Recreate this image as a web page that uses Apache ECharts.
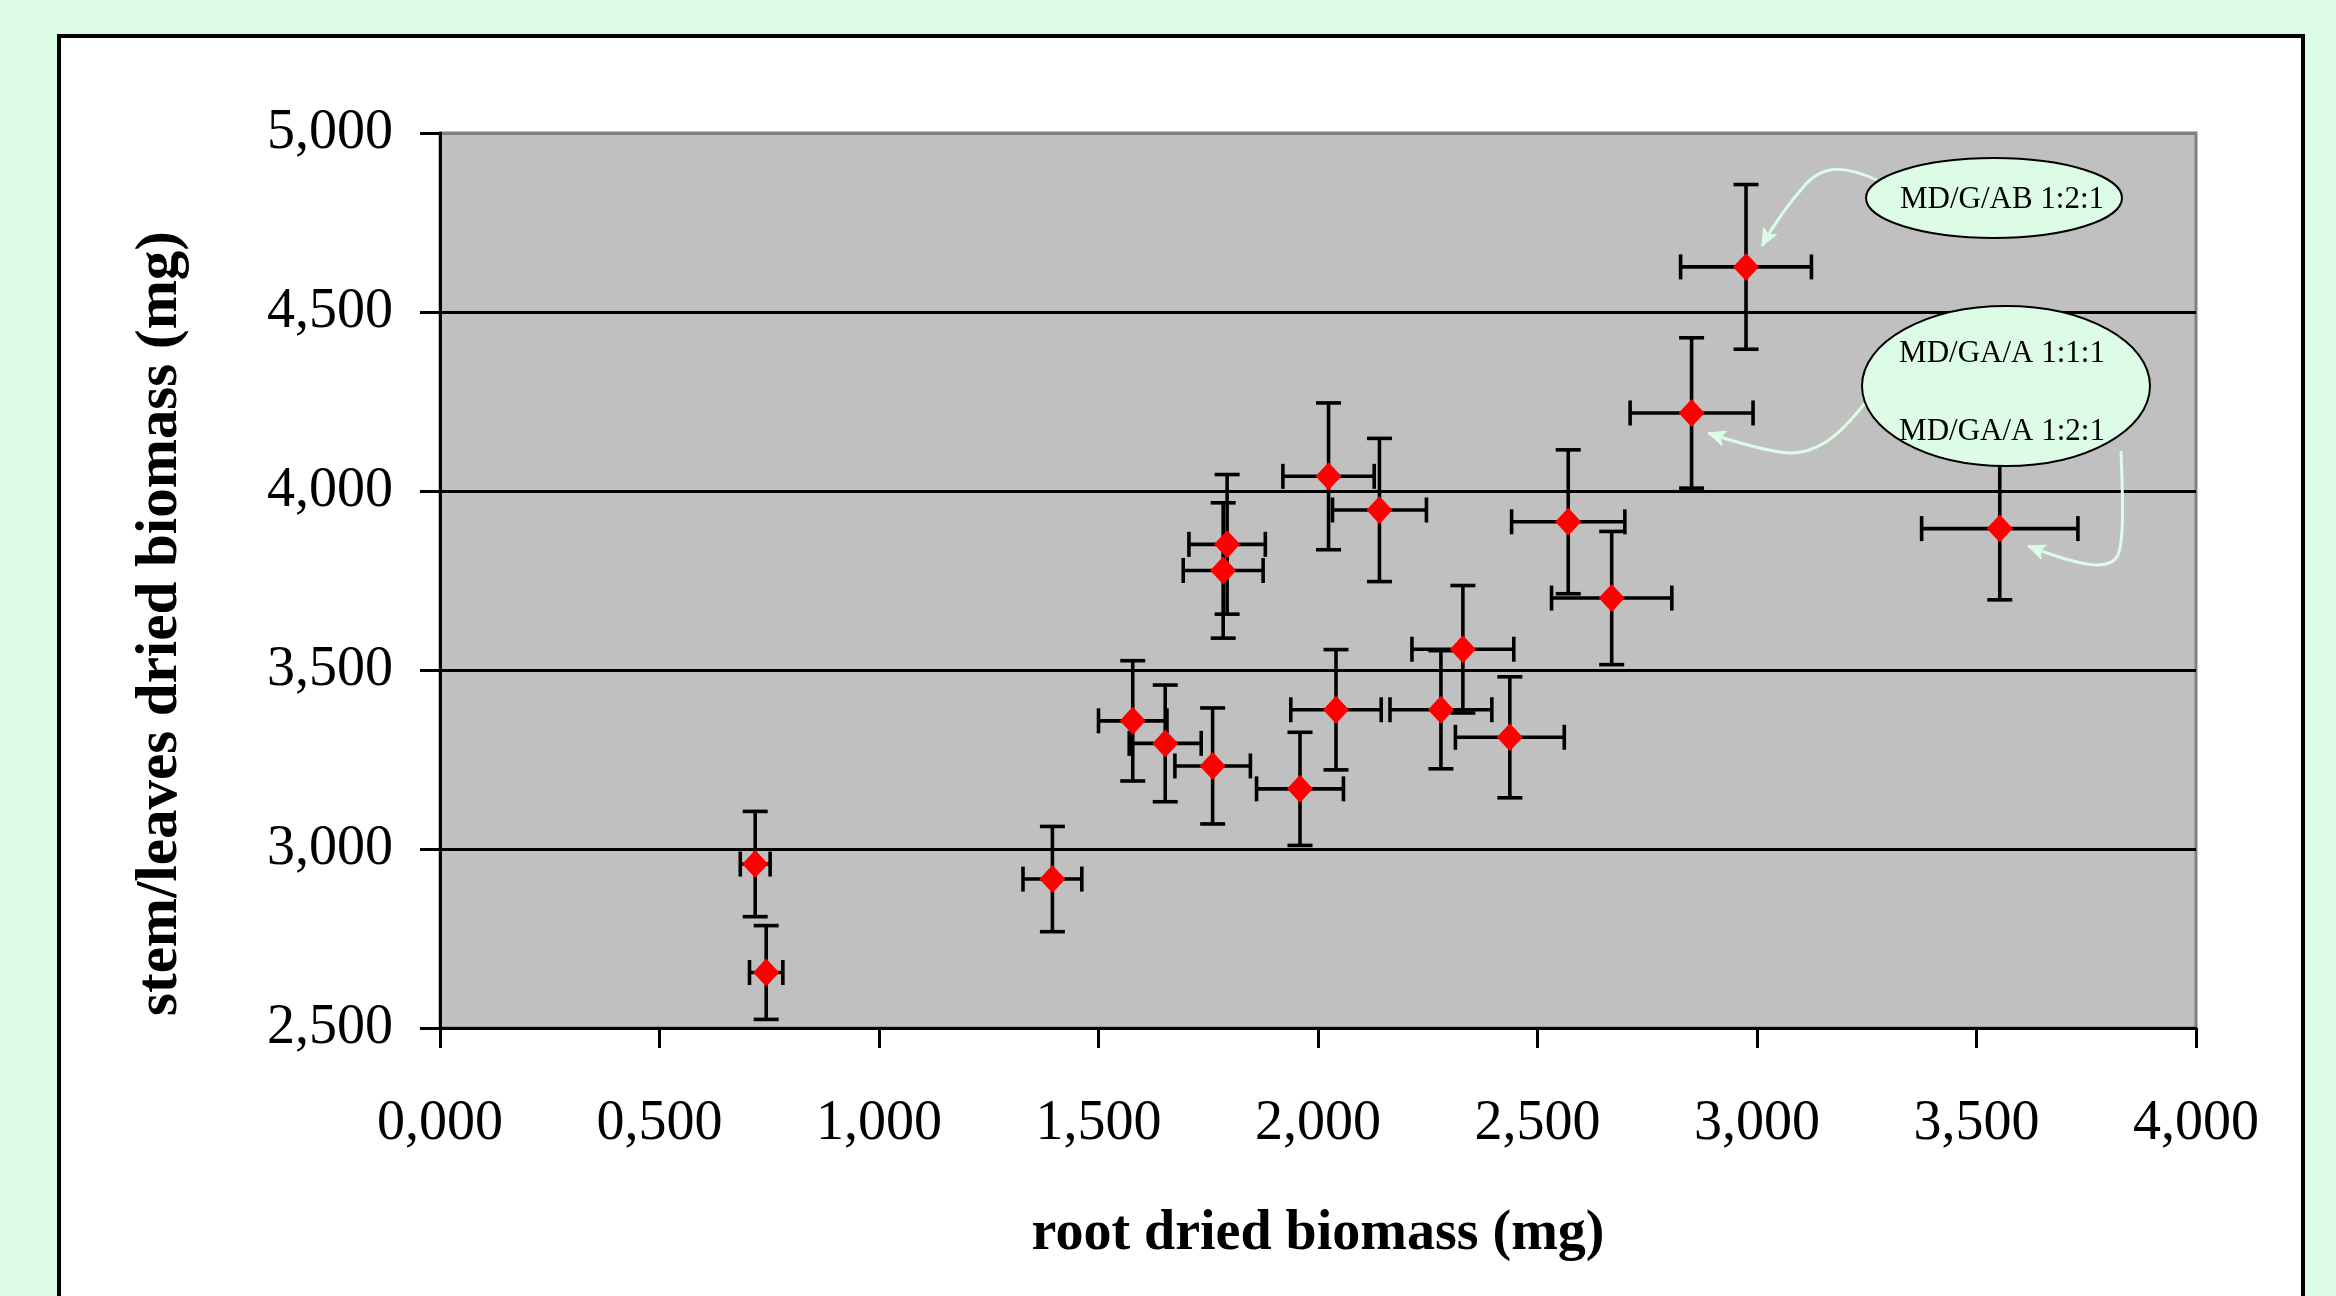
<!DOCTYPE html>
<html>
<head>
<meta charset="utf-8">
<script src="https://cdn.jsdelivr.net/npm/echarts@6/dist/echarts.min.js"></script>
<style>
html,body{margin:0;padding:0;background:#DDFCE6;}
#c{width:2336px;height:1296px;}
</style>
</head>
<body>
<div id="c"></div>
<script>
// ---- data ----
const xTickLabels = ['0,000','0,500','1,000','1,500','2,000','2,500','3,000','3,500','4,000'];
const yTickLabels = ['2,500','3,000','3,500','4,000','4,500','5,000'];
const xTitle = 'root dried biomass (mg)';
const yTitle = 'stem/leaves dried biomass (mg)';
const rootBiomass = [0.718, 0.743, 1.395, 1.578, 1.652, 1.760, 1.784, 1.793, 1.959, 2.024, 2.041, 2.140, 2.280, 2.330, 2.437, 2.570, 2.669, 2.851, 2.975, 3.553];
const stemBiomass = [2958, 2655, 2916, 3358, 3295, 3232, 3778, 3851, 3168, 4041, 3389, 3947, 3389, 3558, 3312, 3914, 3701, 4218, 4626, 3895];
const rootError   = [0.034, 0.038, 0.067, 0.078, 0.082, 0.086, 0.091, 0.087, 0.099, 0.104, 0.103, 0.107, 0.116, 0.116, 0.124, 0.129, 0.137, 0.140, 0.149, 0.178];
const stemError   = [147, 131, 147, 168, 163, 162, 189, 195, 158, 205, 168, 200, 165, 178, 169, 201, 186, 210, 230, 199];
const noteTop = 'MD/G/AB 1:2:1';
const noteMid = ['MD/GA/A 1:1:1', 'MD/GA/A 1:2:1'];

// ---- styles ----
const SERIF = '"Liberation Serif", "Times New Roman", serif';
const GREEN = '#DDFCE6';
const CAP = 25;

const chart = echarts.init(document.getElementById('c'));

const errData = rootBiomass.map((x, i) => [x, stemBiomass[i], rootError[i], stemError[i]]);
const ptData = rootBiomass.map((x, i) => [x, stemBiomass[i]]);

function renderErr(params, api) {
  const x = api.value(0), y = api.value(1), ex = api.value(2), ey = api.value(3);
  const c = api.coord([x, y]);
  const l = api.coord([x - ex, y])[0], r = api.coord([x + ex, y])[0];
  const t = api.coord([x, y + ey])[1], b = api.coord([x, y - ey])[1];
  const h = CAP / 2;
  const st = { stroke: '#000', lineWidth: 3.6 };
  const ln = (x1, y1, x2, y2) => ({ type: 'line', shape: { x1, y1, x2, y2 }, style: st });
  return {
    type: 'group',
    children: [
      ln(l, c[1], r, c[1]),
      ln(l, c[1] - h, l, c[1] + h),
      ln(r, c[1] - h, r, c[1] + h),
      ln(c[0], t, c[0], b),
      ln(c[0] - h, t, c[0] + h, t),
      ln(c[0] - h, b, c[0] + h, b)
    ]
  };
}

// annotation arrows (pixel geometry of the callouts): each is a chain of cubic segments
const arrows = [
  [[1877,180, 1850,168, 1826,162, 1805,185], [1805,185, 1790,202, 1775,222, 1762,246]],
  [[1865,403, 1840,435, 1815,458, 1780,452], [1780,452, 1755,448, 1735,442, 1708,433]],
  [[2121,451, 2123,500, 2124,540, 2118,555], [2118,555, 2110,572, 2080,566, 2028,546]]
];

function arrowHead(seg) {
  const tip = [seg[6], seg[7]], from = [seg[4], seg[5]];
  const dx = tip[0] - from[0], dy = tip[1] - from[1];
  const L = Math.hypot(dx, dy), ux = dx / L, uy = dy / L;
  const len = 17, hw = 7.5;
  const bx = tip[0] - ux * len, by = tip[1] - uy * len;
  return [[tip[0], tip[1]], [bx - uy * hw, by + ux * hw], [bx + ux * 4, by + uy * 4], [bx + uy * hw, by - ux * hw]];
}

const graphics = [
  { type: 'rect', z: -100, silent: true,
    shape: { x: 59, y: 36, width: 2244, height: 1300 },
    style: { fill: '#FFFFFF', stroke: '#000000', lineWidth: 4 } }
];
arrows.forEach(segs => {
  segs.forEach(s => {
    graphics.push({ type: 'bezierCurve', z: 100, silent: true,
      shape: { x1: s[0], y1: s[1], cpx1: s[2], cpy1: s[3], cpx2: s[4], cpy2: s[5], x2: s[6], y2: s[7] },
      style: { fill: null, stroke: GREEN, lineWidth: 3 } });
  });
  graphics.push({ type: 'polygon', z: 100, silent: true, shape: { points: arrowHead(segs[segs.length - 1]) },
    style: { fill: GREEN, stroke: GREEN, lineWidth: 1 } });
});
graphics.push(
  { type: 'ellipse', z: 101, silent: true, shape: { cx: 1994, cy: 198, rx: 128, ry: 40 }, style: { fill: GREEN, stroke: '#000', lineWidth: 2 } },
  { type: 'text', z: 102, silent: true, x: 2002, y: 200, style: { text: noteTop, font: '31px ' + SERIF, fill: '#000', align: 'center', verticalAlign: 'middle' } },
  { type: 'ellipse', z: 101, silent: true, shape: { cx: 2006, cy: 386, rx: 144, ry: 80 }, style: { fill: GREEN, stroke: '#000', lineWidth: 2 } },
  { type: 'text', z: 102, silent: true, x: 2002, y: 354, style: { text: noteMid[0], font: '31px ' + SERIF, fill: '#000', align: 'center', verticalAlign: 'middle' } },
  { type: 'text', z: 102, silent: true, x: 2002, y: 432, style: { text: noteMid[1], font: '31px ' + SERIF, fill: '#000', align: 'center', verticalAlign: 'middle' } }
);

const option = {
  backgroundColor: GREEN,
  animation: false,
  textStyle: { fontFamily: SERIF },
  grid: {
    left: 440, top: 133, width: 1756, height: 895,
    show: true, backgroundColor: '#C0C0C0', borderColor: '#808080', borderWidth: 3
  },
  xAxis: {
    type: 'value', min: 0, max: 4, interval: 0.5,
    name: xTitle, nameLocation: 'middle', nameGap: 179,
    nameTextStyle: { fontFamily: SERIF, fontSize: 56, fontWeight: 'bold', color: '#000' },
    axisLine: { show: true, onZero: false, lineStyle: { color: '#000', width: 3 } },
    axisTick: { show: true, inside: false, length: 20, lineStyle: { color: '#000', width: 3 } },
    axisLabel: { margin: 68, fontSize: 56, color: '#000', fontFamily: SERIF,
      formatter: v => xTickLabels[Math.round(v / 0.5)] },
    splitLine: { show: false }
  },
  yAxis: {
    type: 'value', min: 2500, max: 5000, interval: 500,
    name: yTitle, nameLocation: 'middle', nameGap: 250, nameRotate: 90,
    nameTextStyle: { fontFamily: SERIF, fontSize: 59, fontWeight: 'bold', color: '#000', padding: [0, 86, 0, 0] },
    axisLine: { show: true, onZero: false, lineStyle: { color: '#000', width: 3 } },
    axisTick: { show: true, inside: false, length: 20, lineStyle: { color: '#000', width: 3 } },
    axisLabel: { margin: 47, fontSize: 56, color: '#000', fontFamily: SERIF, padding: [6, 0, 0, 0],
      formatter: v => yTickLabels[Math.round((v - 2500) / 500)] },
    splitLine: { show: true, lineStyle: { color: ['#000', '#000', '#000', '#000', '#000', '#808080'], width: 3 } }
  },
  graphic: graphics,
  series: [
    { type: 'custom', renderItem: renderErr, data: errData, encode: { x: 0, y: 1 }, z: 3, silent: true },
    { type: 'scatter', data: ptData, symbol: 'diamond', symbolSize: [26, 28],
      itemStyle: { color: '#FF0000', opacity: 1 }, z: 5, silent: true }
  ]
};
chart.setOption(option);
</script>
</body>
</html>
